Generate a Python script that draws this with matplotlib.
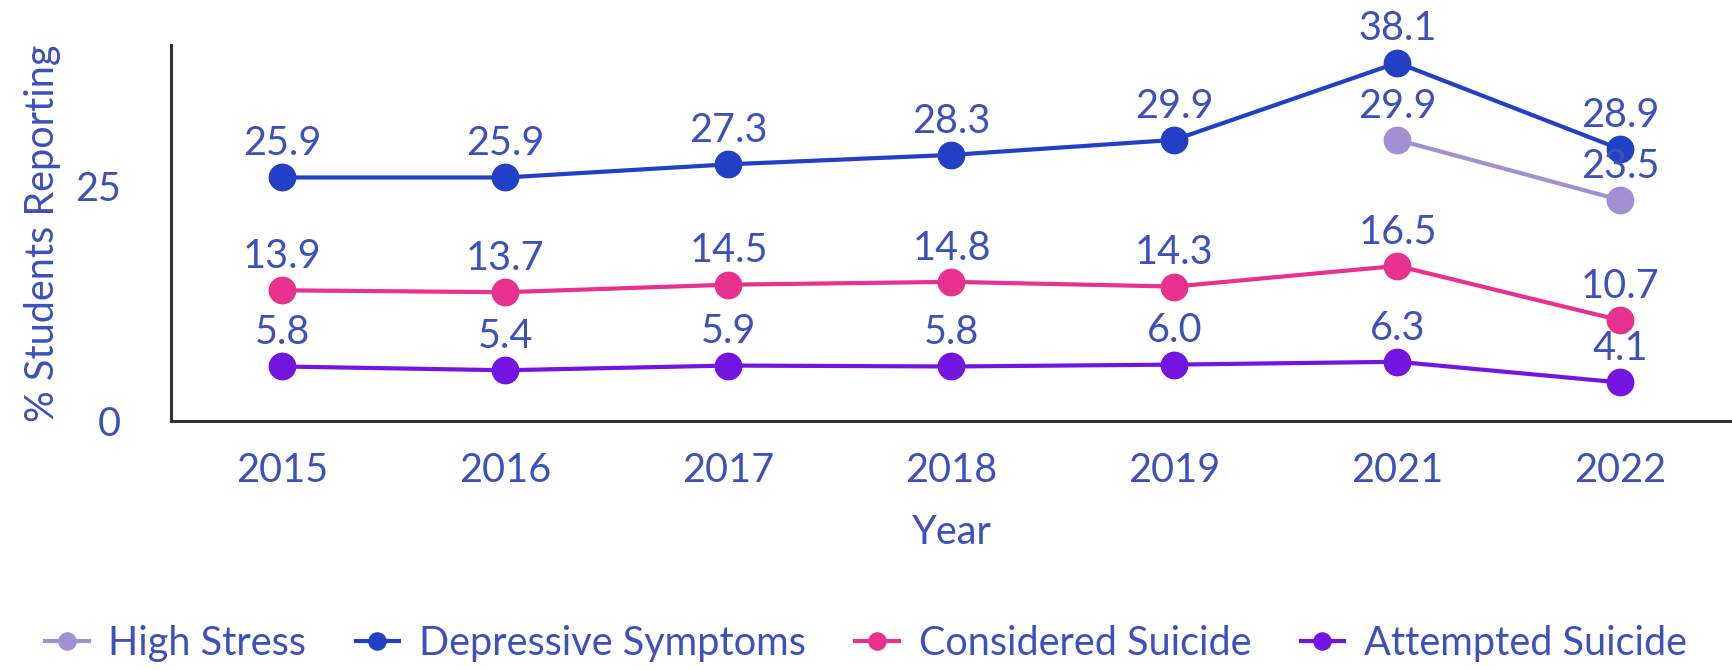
import matplotlib
matplotlib.use('Agg')
import matplotlib.pyplot as plt
import numpy as np

plt.rcParams['font.family'] = ['Lato', 'DejaVu Sans']

years = ['2015', '2016', '2017', '2018', '2019', '2021', '2022']
high_stress = [np.nan, np.nan, np.nan, np.nan, np.nan, 29.9, 23.5]
depressive = [25.9, 25.9, 27.3, 28.3, 29.9, 38.1, 28.9]
considered = [13.9, 13.7, 14.5, 14.8, 14.3, 16.5, 10.7]
attempted = [5.8, 5.4, 5.9, 5.8, 6.0, 6.3, 4.1]

series = [
    ('High Stress', high_stress, '#a48fd2'),
    ('Depressive Symptoms', depressive, '#2140c6'),
    ('Considered Suicide', considered, '#e8308e'),
    ('Attempted Suicide', attempted, '#7414e0'),
]

text_color = '#3c50be'
fs = 28.5

fig = plt.figure(figsize=(17.32, 6.70), dpi=100)
ax = fig.add_axes([0.0987, 0.3716, 0.9013, 0.5614])

x = np.arange(len(years))
for name, vals, col in series:
    ax.plot(x, vals, color=col, lw=3, marker='o', ms=19, label=name, zorder=3)

for name, vals, col in series:
    for xi, v in zip(x, vals):
        if np.isnan(v):
            continue
        ax.annotate(f'{v:.1f}', (xi, v), xytext=(0, 11), textcoords='offset points',
                    ha='center', va='bottom', fontsize=fs, color=text_color, zorder=5)

ax.set_xlim(-0.5, 6.5)
ax.set_ylim(0, 40)
ax.set_xticks(x)
ax.set_xticklabels(years)
ax.set_yticks([0, 25])
ax.tick_params(axis='both', length=0, labelsize=fs, labelcolor=text_color)
ax.tick_params(axis='x', pad=22)
ax.tick_params(axis='y', pad=36)
for s in ['top', 'right']:
    ax.spines[s].set_visible(False)
for s in ['left', 'bottom']:
    ax.spines[s].set_color('#333333')
    ax.spines[s].set_linewidth(2.2)

ax.set_xlabel('Year', fontsize=fs, color=text_color, labelpad=18)
ax.set_ylabel('% Students Reporting', fontsize=fs, color=text_color, labelpad=10)

fig.legend(loc='center', bbox_to_anchor=(0.5, 0.04), ncol=4, frameon=False,
           fontsize=fs, labelcolor=text_color, handlelength=1.1,
           handletextpad=0.5, columnspacing=1.25, markerscale=0.65)

plt.savefig('out.png', dpi=100)
plt.close('all')
